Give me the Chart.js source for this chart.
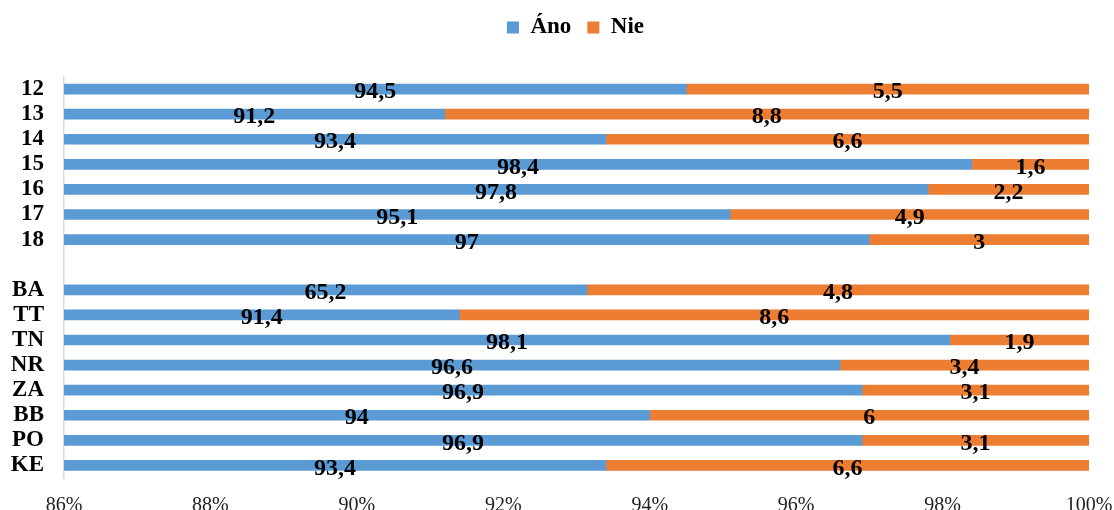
<!DOCTYPE html>
<html>
<head>
<meta charset="utf-8">
<script src="https://cdn.jsdelivr.net/npm/chart.js@4"></script>
<style>
html,body{margin:0;padding:0;background:#fff;}
#wrap{width:1114px;height:510px;position:relative;}
</style>
</head>
<body>
<div id="wrap"><canvas id="c" width="1114" height="510"></canvas></div>
<script>
const categories = ['12','13','14','15','16','17','18','','BA','TT','TN','NR','ZA','BB','PO','KE'];
const anoValues = [94.5, 91.2, 93.4, 98.4, 97.8, 95.1, 97, null, 65.2, 91.4, 98.1, 96.6, 96.9, 94, 96.9, 93.4];
const nieValues = [5.5, 8.8, 6.6, 1.6, 2.2, 4.9, 3, null, 4.8, 8.6, 1.9, 3.4, 3.1, 6, 3.1, 6.6];
const seriesNames = ['Áno', 'Nie'];
const xTicks = [86, 88, 90, 92, 94, 96, 98, 100];

const SERIF = '"Liberation Serif", "Times New Roman", serif';

function share(v, i) {
  if (v === null) return null;
  const t = anoValues[i] + nieValues[i];
  return v / t * 100;
}
const anoPct = anoValues.map(share);
const niePct = nieValues.map(share);
const rawByDataset = [anoValues, nieValues];

function fmt(v) { return String(v).replace('.', ','); }

const labelPlugin = {
  id: 'barLabels',
  afterDatasetsDraw(chart) {
    const ctx = chart.ctx;
    const area = chart.chartArea;
    ctx.save();
    ctx.font = 'bold 24px ' + SERIF;
    ctx.fillStyle = '#000';
    ctx.textAlign = 'center';
    ctx.textBaseline = 'middle';
    chart.data.datasets.forEach((ds, di) => {
      const meta = chart.getDatasetMeta(di);
      meta.data.forEach((bar, i) => {
        const raw = rawByDataset[di][i];
        if (raw === null || raw === undefined) return;
        const x0 = Math.max(Math.min(bar.x, bar.base), area.left);
        const x1 = Math.min(Math.max(bar.x, bar.base), area.right);
        if (x1 <= x0) return;
        ctx.fillText(fmt(raw), (x0 + x1) / 2, bar.y + 3);
      });
    });
    ctx.restore();
  }
};

const legendSpace = {
  id: 'legendSpace',
  beforeInit(chart) {
    const origFit = chart.legend.fit;
    chart.legend.fit = function () {
      origFit.bind(chart.legend)();
      this.height += 27.5;
    };
  },
  afterLayout(chart) {
    chart.legend.left += 26;
    chart.legend.right += 26;
  }
};

new Chart(document.getElementById('c'), {
  type: 'bar',
  data: {
    labels: categories,
    datasets: [
      { label: seriesNames[0], data: anoPct, backgroundColor: '#5B9BD5', barThickness: 10 },
      { label: seriesNames[1], data: niePct, backgroundColor: '#ED7D31', barThickness: 10 }
    ]
  },
  options: {
    indexAxis: 'y',
    responsive: false,
    animation: false,
    layout: { padding: { top: 0, right: 25, bottom: 0, left: 10 } },
    plugins: {
      legend: {
        position: 'top',
        labels: {
          boxWidth: 12, boxHeight: 12, padding: 16,
          color: '#000',
          font: { family: SERIF, size: 23, weight: 'bold' }
        }
      },
      tooltip: { enabled: false }
    },
    scales: {
      x: {
        stacked: true,
        min: xTicks[0],
        max: xTicks[xTicks.length - 1],
        afterBuildTicks(scale) { scale.ticks = xTicks.map(v => ({ value: v })); },
        afterFit(scale) { scale.height = 32; scale.paddingRight = 0; scale.paddingLeft = 0; },
        ticks: {
          callback: v => v + '%',
          color: '#222',
          padding: 16,
          maxRotation: 0,
          font: { family: SERIF, size: 20 }
        },
        grid: { display: false, drawTicks: false },
        border: { display: false }
      },
      y: {
        stacked: true,
        afterFit(scale) { scale.width = 54; scale.paddingTop = 0; scale.paddingBottom = 0; },
        grid: { display: false, drawTicks: false },
        border: { display: true, color: '#d9d9d9', width: 1.5 },
        ticks: {
          color: '#000',
          padding: 20,
          autoSkip: false,
          font: { family: SERIF, size: 23, weight: 'bold' }
        }
      }
    }
  },
  plugins: [labelPlugin, legendSpace]
});
</script>
</body>
</html>
